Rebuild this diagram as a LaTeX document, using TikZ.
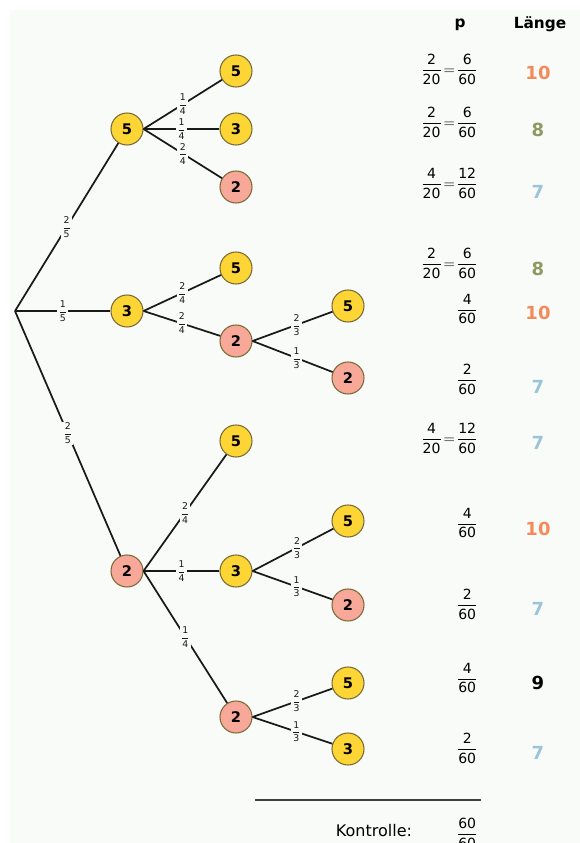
\documentclass[tikz,border=0pt]{standalone}
\usepackage{amsmath}
\usepackage{fontspec}
\setmainfont{DejaVu Sans}
\usetikzlibrary{positioning}

\definecolor{gelb}{HTML}{FDD535}
\definecolor{lachs}{HTML}{F8A898}
\definecolor{rand}{HTML}{7A6C35}
\definecolor{grund}{HTML}{F9FBF9}
\definecolor{zehn}{HTML}{F5895A}
\definecolor{acht}{HTML}{8E9A62}
\definecolor{sieben}{HTML}{9CC4D8}

\newcommand{\bruch}[2]{$\dfrac{\text{#1}}{\text{#2}}$}
\newcommand{\gleich}[4]{$\dfrac{\text{#1}}{\text{#2}}\!=\!\dfrac{\text{#3}}{\text{#4}}$}

\tikzset{
  kugel/.style={circle, draw=rand, line width=0.8pt, minimum size=24pt,
    inner sep=0pt, font=\fontsize{11}{12}\selectfont\bfseries},
  gelbkugel/.style={kugel, fill=gelb},
  lachskugel/.style={kugel, fill=lachs},
  ast/.style={line width=1.3pt, black!90},
  prob/.style={fill=grund, inner sep=0.6pt, font=\fontsize{7}{8}\selectfont},
  pwert/.style={anchor=east, inner sep=0pt, font=\fontsize{10.5}{12}\selectfont},
  laenge/.style={font=\fontsize{13.5}{15}\selectfont\bfseries},
}

\begin{document}
\begin{tikzpicture}[x=0.75pt,y=-0.75pt]
      % background
      \useasboundingbox (0,0) rectangle (580,843);
      \fill[grund] (10,10) rectangle (580,843);

      % tree nodes
      \coordinate (wurzel) at (15,311);
      \node[gelbkugel]  (n5)   at (127,129) {5};
      \node[gelbkugel]  (n3)   at (127,311) {3};
      \node[lachskugel] (n2)   at (127,571) {2};

      \node[gelbkugel]  (n55)  at (236,71)  {5};
      \node[gelbkugel]  (n53)  at (236,129) {3};
      \node[lachskugel] (n52)  at (236,187) {2};
      \node[gelbkugel]  (n35)  at (236,268) {5};
      \node[lachskugel] (n32)  at (236,341) {2};
      \node[gelbkugel]  (n25)  at (236,441) {5};
      \node[gelbkugel]  (n23)  at (236,571) {3};
      \node[lachskugel] (n22)  at (236,717) {2};

      \node[gelbkugel]  (n325) at (348,306) {5};
      \node[lachskugel] (n322) at (348,378) {2};
      \node[gelbkugel]  (n235) at (348,521) {5};
      \node[lachskugel] (n232) at (348,605) {2};
      \node[gelbkugel]  (n225) at (348,683) {5};
      \node[gelbkugel]  (n223) at (348,749) {3};

      % first draw
      \draw[ast] (wurzel) -- node[prob] {\bruch{2}{5}} (n5);
      \draw[ast] (wurzel) -- node[prob] {\bruch{1}{5}} (n3);
      \draw[ast] (wurzel) -- node[prob] {\bruch{2}{5}} (n2);

      % second draw
      \draw[ast] (n5.east) -- node[prob] {\bruch{1}{4}} (n55);
      \draw[ast] (n5.east) -- node[prob] {\bruch{1}{4}} (n53);
      \draw[ast] (n5.east) -- node[prob] {\bruch{2}{4}} (n52);
      \draw[ast] (n3.east) -- node[prob] {\bruch{2}{4}} (n35);
      \draw[ast] (n3.east) -- node[prob] {\bruch{2}{4}} (n32);
      \draw[ast] (n2.east) -- node[prob] {\bruch{2}{4}} (n25);
      \draw[ast] (n2.east) -- node[prob] {\bruch{1}{4}} (n23);
      \draw[ast] (n2.east) -- node[prob] {\bruch{1}{4}} (n22);

      % third draw
      \draw[ast] (n32.east) -- node[prob,pos=0.55] {\bruch{2}{3}} (n325);
      \draw[ast] (n32.east) -- node[prob,pos=0.55] {\bruch{1}{3}} (n322);
      \draw[ast] (n23.east) -- node[prob,pos=0.55] {\bruch{2}{3}} (n235);
      \draw[ast] (n23.east) -- node[prob,pos=0.55] {\bruch{1}{3}} (n232);
      \draw[ast] (n22.east) -- node[prob,pos=0.55] {\bruch{2}{3}} (n225);
      \draw[ast] (n22.east) -- node[prob,pos=0.55] {\bruch{1}{3}} (n223);

      % table head
      \node[font=\fontsize{11.5}{13}\selectfont\bfseries] (kopfp) at (460,25) {p};
      \node[font=\fontsize{11.5}{13}\selectfont\bfseries] (kopfl) at (540,24) {Länge};

      % probabilities
      \node[pwert] (p1)  at (478,69)  {\gleich{2}{20}{6}{60}};
      \node[pwert] (p2)  at (478,122) {\gleich{2}{20}{6}{60}};
      \node[pwert] (p3)  at (478,183) {\gleich{4}{20}{12}{60}};
      \node[pwert] (p4)  at (478,263) {\gleich{2}{20}{6}{60}};
      \node[pwert] (p5)  at (478,309) {\bruch{4}{60}};
      \node[pwert] (p6)  at (478,379) {\bruch{2}{60}};
      \node[pwert] (p7)  at (478,438) {\gleich{4}{20}{12}{60}};
      \node[pwert] (p8)  at (478,523) {\bruch{4}{60}};
      \node[pwert] (p9)  at (478,604) {\bruch{2}{60}};
      \node[pwert] (p10) at (478,678) {\bruch{4}{60}};
      \node[pwert] (p11) at (478,748) {\bruch{2}{60}};

      % lengths
      \foreach \y/\w/\c [count=\i] in {73/10/zehn, 130/8/acht, 192/7/sieben,
          269/8/acht, 313/10/zehn, 387/7/sieben, 443/7/sieben, 529/10/zehn,
          609/7/sieben, 683/9/black, 753/7/sieben}
        \node[laenge, text=\c] (l\i) at (538,\y) {\w};

      % check sum
      \coordinate (strichA) at (255,800);
      \coordinate (strichB) at (481,800);
      \draw[line width=1.2pt, black!75] (strichA) -- (strichB);
      \node[font=\fontsize{12}{14}\selectfont] (kontrolle) at (374,831) {Kontrolle:};
      \node[pwert] (summe) at (478,833) {\bruch{60}{60}};
    \end{tikzpicture}
\end{document}
